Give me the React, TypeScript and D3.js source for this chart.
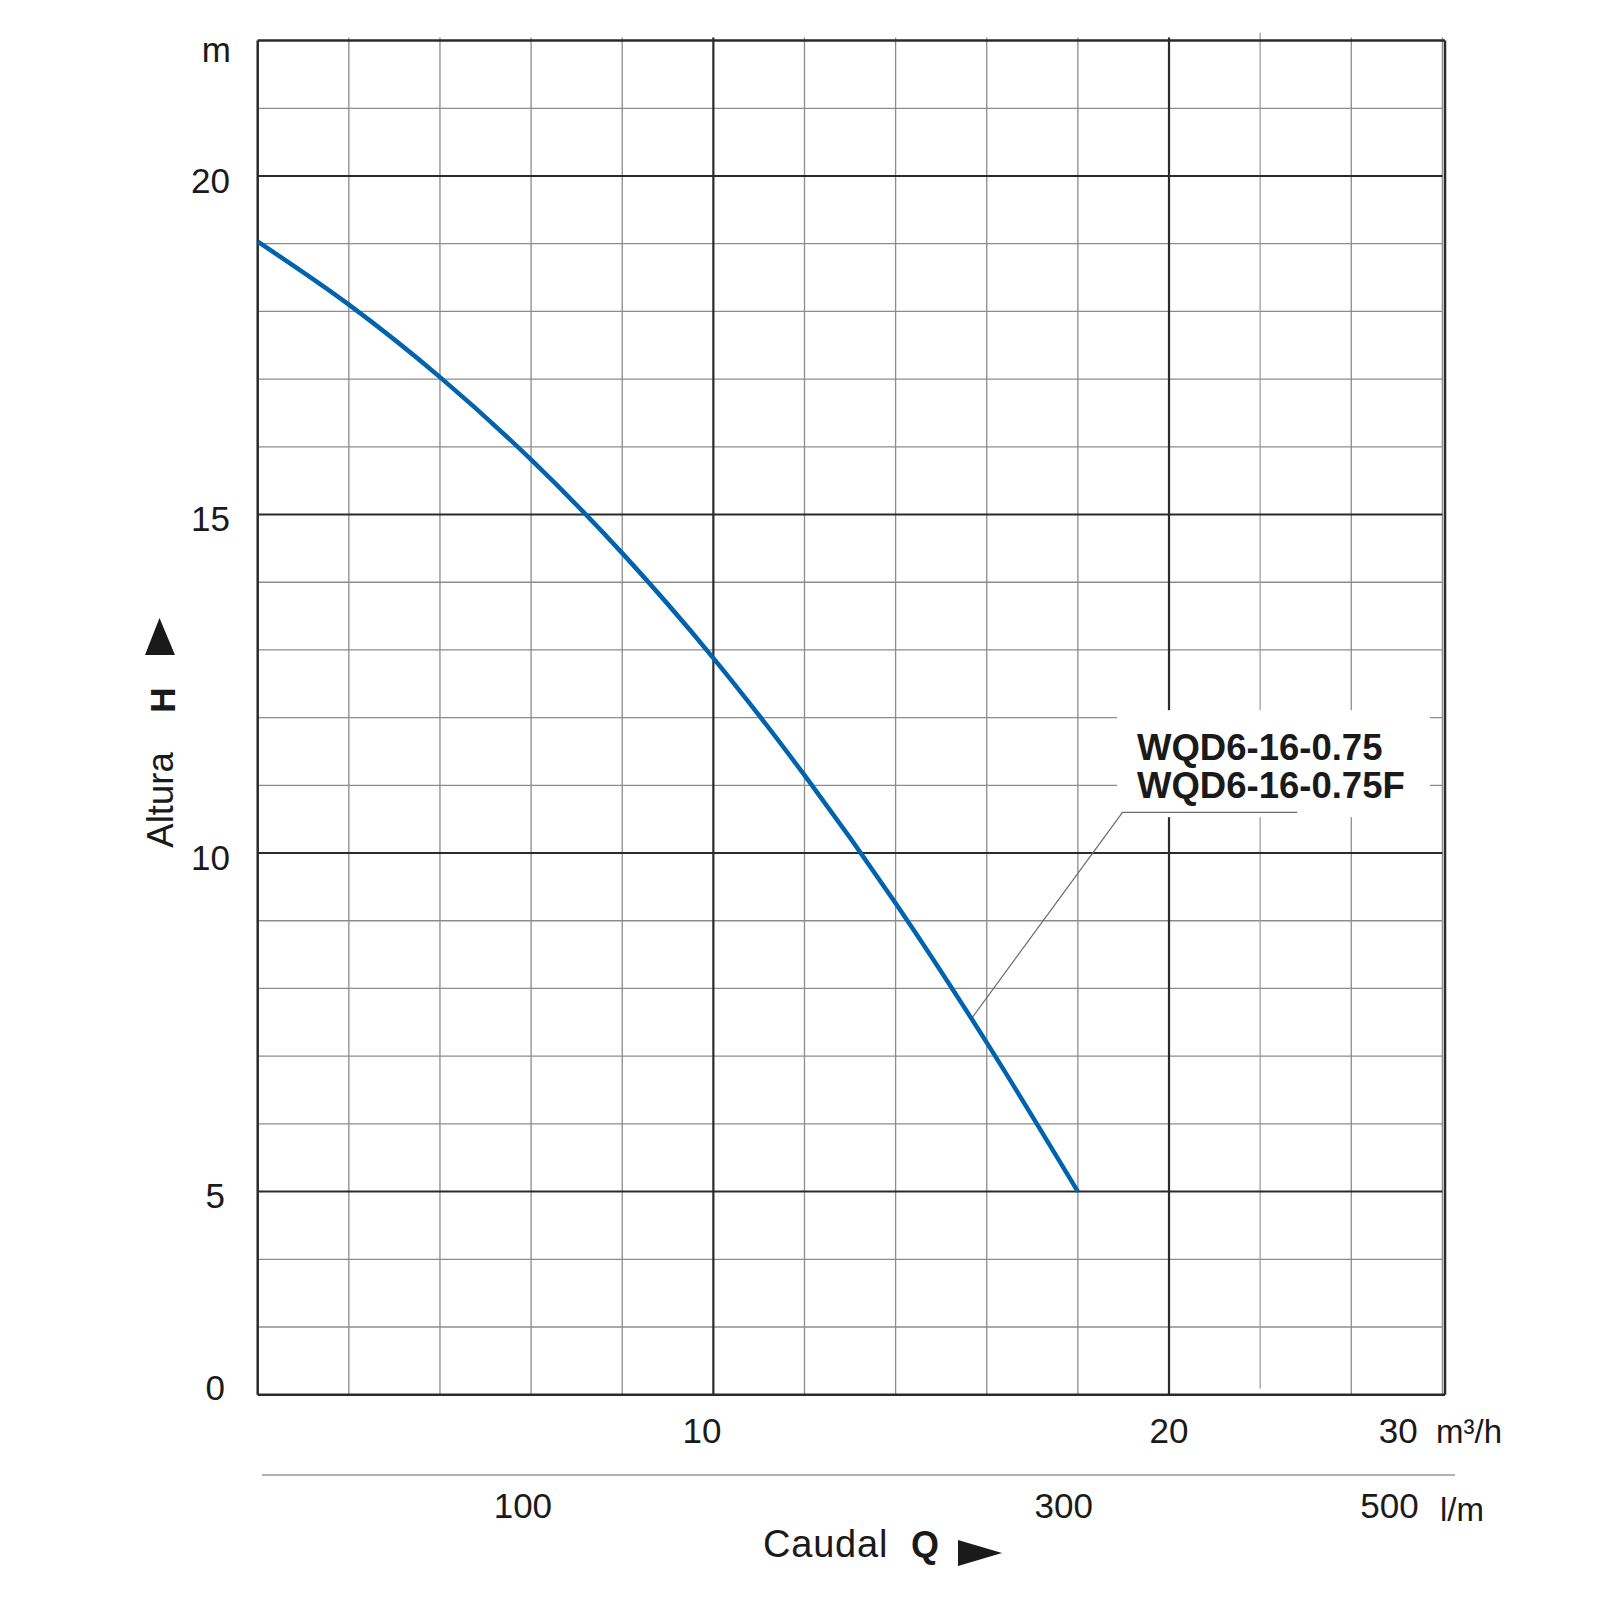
import React from "react";
import * as d3 from "d3";

// ---- data ----
const flowQ = [0, 2, 4, 6, 8, 10, 12, 14, 16, 18]; // m³/h
const headH = [19.03, 18.1, 17.03, 15.81, 14.43, 12.88, 11.15, 9.26, 7.2, 5.0]; // m

const yMajorTicks = [5, 10, 15, 20];
const yMinorTicks = [3, 4, 6, 7, 8, 9, 11, 12, 13, 14, 16, 17, 18, 19, 21];
const xMajorTicks = [10, 20];
const xMinorTicks = [2, 4, 6, 8, 12, 14, 16, 18, 24, 26];
const xTallTick = 22;

const m3hLabels = ["10", "20", "30"];
const m3hLabelPos = [9.75, 20, 25.03];
const lpmLabels = ["100", "300", "500"];
const lpmLabelPos = [5.82, 17.69, 24.84];

const modelNames = ["WQD6-16-0.75", "WQD6-16-0.75F"];
const leaderQ = [15.67, 18.98, 22.81];
const leaderH = [7.56, 10.6, 10.6];

const FONT = "'Liberation Sans', Arial, Helvetica, sans-serif";

export default function App() {
  const x = d3.scaleLinear().domain([0, 26]).range([257.7, 1442.4]);
  const y = d3.scaleLinear().domain([2, 22]).range([1394.7, 40.6]);
  const left = x(0);
  const right = 1445;
  const top = y(22);
  const bottom = y(2);

  const pts: [number, number][] = flowQ.map((q, i) => [q, headH[i]]);
  const line = d3
    .line<[number, number]>()
    .x((d) => x(d[0]))
    .y((d) => y(d[1]))
    .curve(d3.curveMonotoneX);

  const leader = d3
    .line<number>()
    .x((d) => x(leaderQ[d]))
    .y((d) => y(leaderH[d]));

  const minorStroke = "#8c8c8c";
  const majorStroke = "#2b2b2b";

  return (
    <svg
      width={1600}
      height={1600}
      style={{ position: "absolute", left: 0, top: 0, background: "#fff" }}
      fontFamily={FONT}
    >
      <rect x={0} y={0} width={1600} height={1600} fill="#fff" />
      {/* minor horizontal gridlines */}
      {yMinorTicks.map((v) => (
        <line key={"hm" + v} x1={left} x2={x(26)} y1={y(v)} y2={y(v)} stroke={minorStroke} strokeWidth={1.3} />
      ))}
      {/* minor vertical gridlines */}
      {xMinorTicks.map((v) => (
        <line key={"vm" + v} x1={x(v)} x2={x(v)} y1={top - 3} y2={bottom} stroke={minorStroke} strokeWidth={1.3} />
      ))}
      <line x1={x(xTallTick)} x2={x(xTallTick)} y1={top - 8} y2={bottom - 6} stroke="#a0a0a0" strokeWidth={1.3} />
      {/* major gridlines */}
      {yMajorTicks.map((v) => (
        <line key={"hM" + v} x1={left} x2={x(26)} y1={y(v)} y2={y(v)} stroke={majorStroke} strokeWidth={2} />
      ))}
      {xMajorTicks.map((v) => (
        <line key={"vM" + v} x1={x(v)} x2={x(v)} y1={top - 3} y2={bottom} stroke={majorStroke} strokeWidth={2.2} />
      ))}

      {/* label box masking the grid */}
      <rect x={x(18.86)} y={y(12.11)} width={x(25.73) - x(18.86)} height={y(10.53) - y(12.11)} fill="#fff" />

      {/* frame */}
      <line x1={left} x2={right} y1={top} y2={top} stroke={majorStroke} strokeWidth={2.5} />
      <line x1={left} x2={right} y1={bottom} y2={bottom} stroke={majorStroke} strokeWidth={2.5} />
      <line x1={left} x2={left} y1={top} y2={bottom} stroke={majorStroke} strokeWidth={2.5} />
      <line x1={right} x2={right} y1={top} y2={bottom} stroke={majorStroke} strokeWidth={2.5} />

      {/* leader line */}
      <path d={leader([0, 1, 2]) || ""} fill="none" stroke="#6a6a6a" strokeWidth={1.2} />

      {/* pump curve */}
      <path d={line(pts) || ""} fill="none" stroke="#0063ad" strokeWidth={4.5} strokeLinejoin="round" />

      {/* model labels */}
      {modelNames.map((t, i) => (
        <text key={t} x={1137} y={760 + i * 38} fontSize={36.5} fontWeight="bold" fill="#1a1a1a">
          {t}
        </text>
      ))}

      {/* y axis labels */}
      {yMajorTicks.map((v) => (
        <text key={"yl" + v} x={v === 5 ? 225 : 230} y={y(v) + 16.5} fontSize={35} textAnchor="end" fill="#1a1a1a">
          {v}
        </text>
      ))}
      <text x={225} y={bottom + 5} fontSize={35} textAnchor="end" fill="#1a1a1a">0</text>
      <text x={231} y={62} fontSize={35} textAnchor="end" fill="#1a1a1a">m</text>

      {/* x axis m³/h labels */}
      {m3hLabels.map((t, i) => (
        <text key={"xm" + t} x={x(m3hLabelPos[i])} y={1443} fontSize={35} textAnchor="middle" fill="#1a1a1a">
          {t}
        </text>
      ))}
      <text x={1436} y={1443} fontSize={33} fill="#1a1a1a">m³/h</text>

      {/* l/m scale */}
      <line x1={262} x2={1455} y1={1475} y2={1475} stroke="#999" strokeWidth={1.6} />
      {lpmLabels.map((t, i) => (
        <text key={"xl" + t} x={x(lpmLabelPos[i])} y={1518} fontSize={35} textAnchor="middle" fill="#1a1a1a">
          {t}
        </text>
      ))}
      <text x={1440} y={1521} fontSize={33} fill="#1a1a1a">l/m</text>

      {/* x axis title */}
      <text x={763} y={1557} fontSize={38} letterSpacing={0.8} fill="#1a1a1a">Caudal</text>
      <text x={911} y={1557} fontSize={36} fontWeight="bold" fill="#1a1a1a">Q</text>
      <path d="M958,1540 L1002,1553 L958,1566 Z" fill="#1a1a1a" />

      {/* y axis title */}
      <text transform="translate(172.5,800) rotate(-90)" fontSize={36.5} textAnchor="middle" fill="#1a1a1a">Altura</text>
      <text transform="translate(175,700) rotate(-90)" fontSize={35} fontWeight="bold" textAnchor="middle" fill="#1a1a1a">H</text>
      <path d="M145,655 L159.5,618 L175,655 Z" fill="#1a1a1a" />
    </svg>
  );
}
